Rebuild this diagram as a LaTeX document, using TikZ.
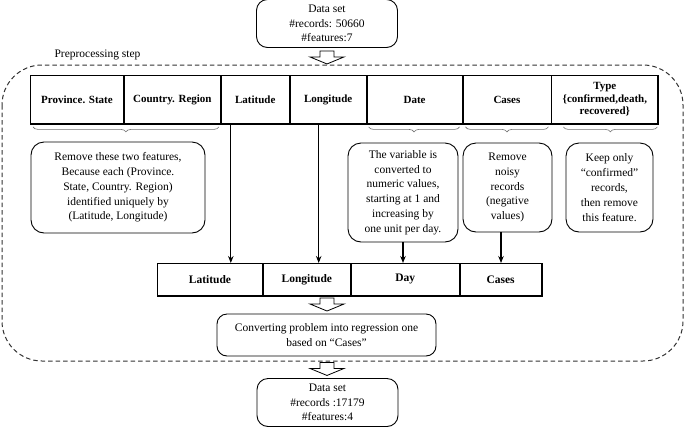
\documentclass[tikz,border=0pt]{standalone}
\usepackage{fontspec}
\setmainfont{Liberation Serif}
\usetikzlibrary{decorations.pathreplacing,arrows.meta,calc}
\definecolor{dashgray}{HTML}{333333}
\definecolor{bracegray}{HTML}{707070}
\begin{document}
\begin{tikzpicture}[x=1pt,y=-1pt,
  txt/.style={font=\fontsize{11.5}{14.6}\selectfont},
  databox/.style={draw, line width=0.9pt, rounded corners=11pt, align=center, inner sep=0pt,
    minimum width=141pt, minimum height=48pt, txt},
  cell/.style={draw, line width=0.9pt, anchor=north west, align=center, inner sep=0pt,
    minimum height=48pt, font=\bfseries\fontsize{11}{12.6}\selectfont},
  bcell/.style={draw, line width=0.9pt, anchor=north west, align=center, inner sep=0pt,
    minimum height=32pt, font=\bfseries\fontsize{11.5}{13}\selectfont},
  note/.style={draw, line width=0.9pt, rounded corners=13pt, align=center, inner sep=0pt,
    font=\fontsize{11.5}{14.8}\selectfont},
  brc/.style={draw=bracegray, line width=0.6pt, decorate, decoration={brace, mirror, amplitude=5pt}},
  conn/.style={draw, line width=1.1pt, -{Stealth[length=7pt,width=5.5pt]}},
  harrow/.pic={\draw[line width=0.8pt, fill=white] (-7,0) -- (7,0) -- (7,6) -- (17,6) -- (0,13) -- (-17,6) -- (-7,6) -- cycle;}
]
\useasboundingbox (0,0) rectangle (685,429);

% top data set
\node[databox] (top) at (327,23.5) {Data set\\\#records: 50660\\\#features:7};
\path (top.south) ++(0,3) pic {harrow};

% preprocessing frame
\node[txt, anchor=west] (prelabel) at (51,55) {Preprocessing step};
\draw[dashgray, line width=1pt, dash pattern=on 4.5pt off 3pt, rounded corners=40pt] (2,65) rectangle (683,361);

% top table
\node[cell, minimum width=93pt] (ps) at (30,75) {Province. State};
\node[cell, minimum width=96pt] (cr) at (ps.north east) {Country. Region};
\node[cell, minimum width=68pt] (lat) at (cr.north east) {Latitude};
\node[cell, minimum width=76pt] (lon) at (lat.north east) {Longitude};
\node[cell, minimum width=95pt] (date) at (lon.north east) {Date};
\node[cell, minimum width=88pt] (cases) at (date.north east) {Cases};
\node[cell, minimum width=106pt] (type) at (cases.north east) {Type\\\{confirmed,death,\\recovered\}};
\draw[line width=2pt] (ps.south west) -- (type.south east) -- (type.north east);

% braces
\draw[brc] ([xshift=3pt,yshift=-3pt]ps.south west) -- ([xshift=-2pt,yshift=-3pt]cr.south east);
\draw[brc] ([xshift=2pt,yshift=-3pt]date.south west) -- ([xshift=-3pt,yshift=-3pt]date.south east);
\draw[brc] ([xshift=3pt,yshift=-3pt]cases.south west) -- ([xshift=-3pt,yshift=-3pt]cases.south east);
\draw[brc] ([xshift=12pt,yshift=-3pt]type.south west) -- ([xshift=-1pt,yshift=-3pt]type.south east);

% notes
\node[note, minimum width=174pt, minimum height=91pt] (rem) at (118,187.5)
  {Remove these two features,\\Because each (Province.\\State, Country. Region)\\identified uniquely by\\(Latitude, Longitude)};
\node[note, minimum width=110pt, minimum height=99pt] (datenote) at (403,192.5)
  {The variable is\\converted to\\numeric values,\\starting at 1 and\\increasing by\\one unit per day.};
\node[note, minimum width=89pt, minimum height=89pt] (casesnote) at (507.5,187.5)
  {Remove\\noisy\\records\\(negative\\values)};
\node[note, minimum width=87pt, minimum height=89pt] (typenote) at (609.5,187.5)
  {Keep only\\“confirmed”\\records,\\then remove\\this feature.};

% bottom table
\node[bcell, minimum width=105pt] (blat) at (157,263) {Latitude};
\node[bcell, minimum width=87pt] (blon) at (blat.north east) {Longitude};
\node[bcell, minimum width=108pt] (bday) at (blon.north east) {Day};
\node[bcell, minimum width=81pt] (bcases) at (bday.north east) {Cases};
\draw[line width=2pt] (blat.south west) -- (bcases.south east) -- (bcases.north east);

% connectors
\draw[conn] ([xshift=10pt]lat.south west) -- ([xshift=10pt]lat.south west |- blat.north);
\draw[conn] ([xshift=29pt]lon.south west) -- ([xshift=29pt]lon.south west |- blon.north);
\draw[conn] (datenote.south) -- (datenote.south |- bday.north);
\draw[conn] ([xshift=-6.5pt]casesnote.south) -- ([xshift=-6.5pt]casesnote.south |- bcases.north);

% converting
\path (327,298) pic {harrow};
\node[note, rounded corners=10pt, minimum width=219pt, minimum height=42pt] (conv) at (326.5,335)
  {Converting problem into regression one\\based on “Cases”};
\path (conv.south) ++(0.5,6) pic {harrow};

% bottom data set
\node[databox] (bottom) at (327.5,402.5) {Data set\\\#records :17179\\\#features:4};
\end{tikzpicture}
\end{document}
